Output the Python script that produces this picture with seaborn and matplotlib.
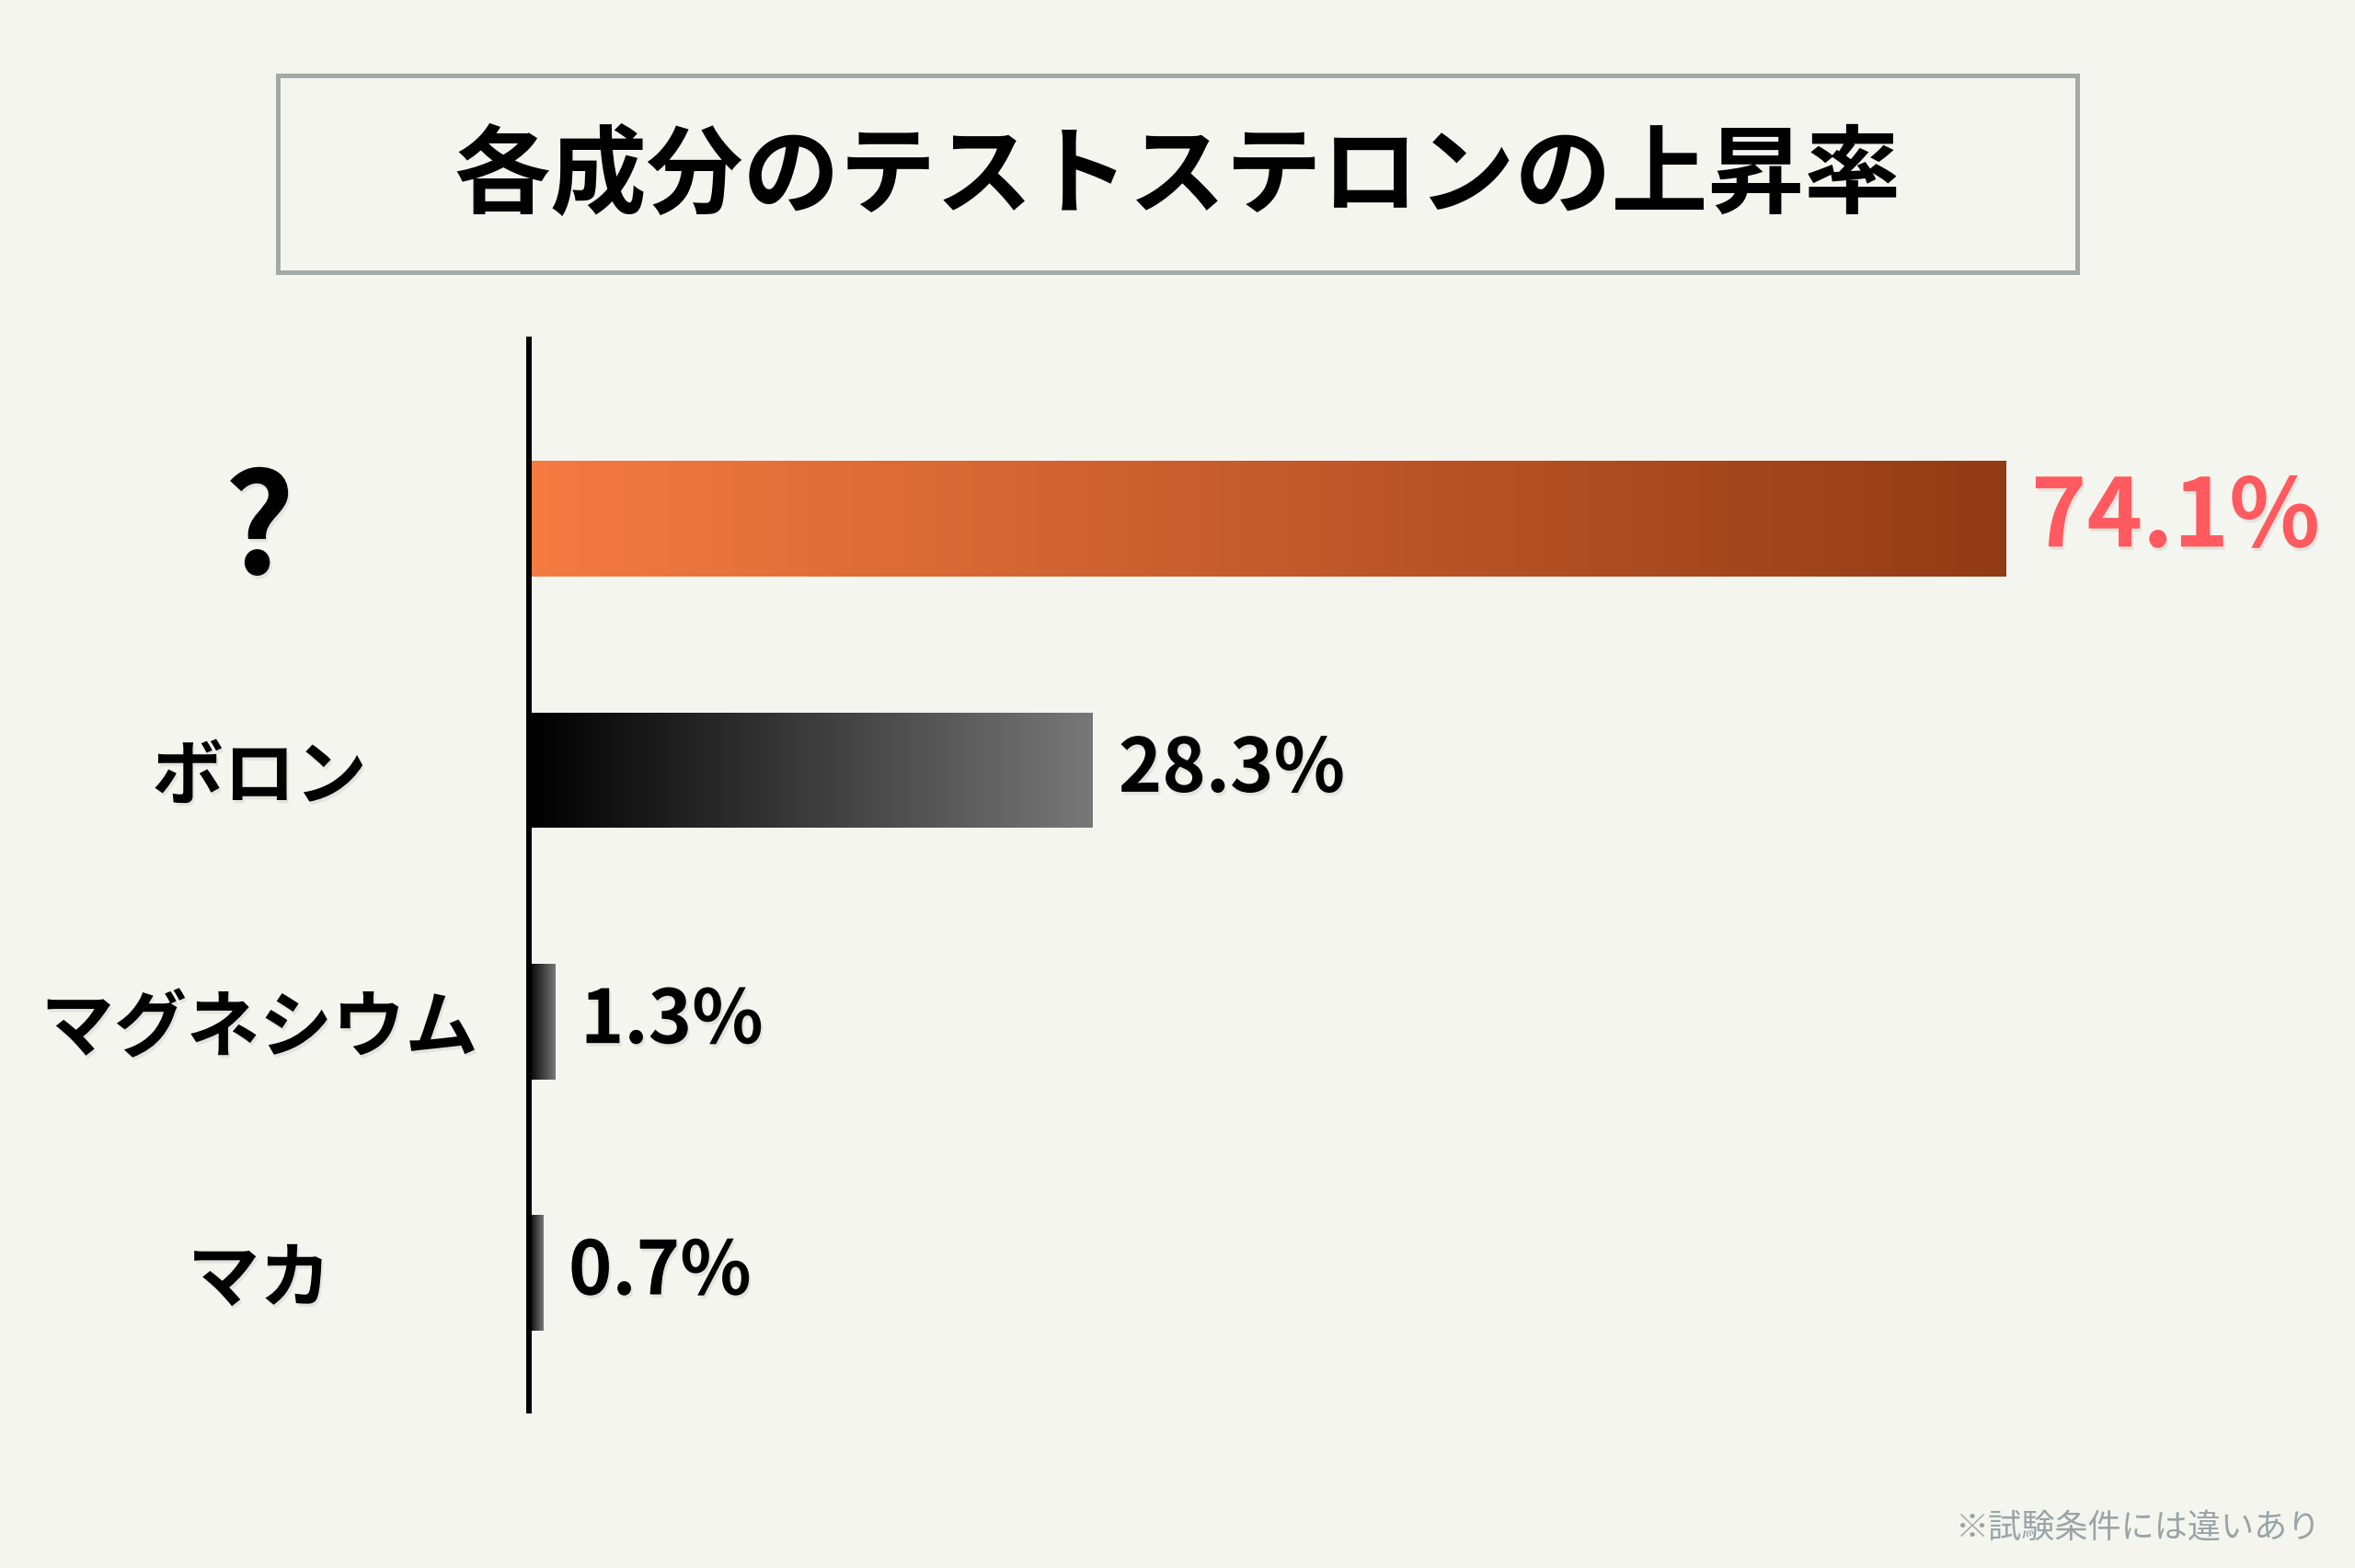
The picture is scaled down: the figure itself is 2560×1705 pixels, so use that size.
import numpy as np
import matplotlib
matplotlib.use("Agg")
import matplotlib.pyplot as plt
import matplotlib.patheffects as pe
from matplotlib.colors import LinearSegmentedColormap
from matplotlib.patches import Rectangle
import seaborn as sns

# data
title = "各成分のテストステロンの上昇率"
categories = ["?", "ボロン", "マグネシウム", "マカ"]
rates = [74.1, 28.3, 1.3, 0.7]
value_labels = ["74.1%", "28.3%", "1.3%", "0.7%"]
note = "※試験条件には違いあり"

bg = "#F5F5F0"
sns.set_theme(style="white")
plt.rcParams["font.family"] = ["Noto Sans CJK JP", "DejaVu Sans"]

W, H = 2560, 1706
fig = plt.figure(figsize=(25.6, 17.06), dpi=100, facecolor=bg)
ax = fig.add_axes([575 / W, 171 / H, 1900 / W, 1165 / H])
ax.set_facecolor("none")

sns.barplot(x=rates, y=categories, orient="h", width=0.46, color="black", ax=ax)

# gradient fills clipped to each bar
orange = LinearSegmentedColormap.from_list("orange", ["#F47B42", "#933B15"])
grey = LinearSegmentedColormap.from_list("grey", ["#000000", "#787878"])
grad = np.linspace(0, 1, 256).reshape(1, -1)
for i, bar in enumerate(ax.patches):
    x0, y0, w, h = bar.get_x(), bar.get_y(), bar.get_width(), bar.get_height()
    im = ax.imshow(grad, cmap=orange if i == 0 else grey,
                   extent=[x0, x0 + w, y0 + h, y0], aspect="auto",
                   interpolation="bicubic", zorder=bar.get_zorder() + 0.1)
    im.set_clip_path(bar)

ax.set_xlim(0, 1900 / 21.66)
ax.set_ylim(3.549, -0.714)

for s in ["top", "right", "bottom"]:
    ax.spines[s].set_visible(False)
ax.spines["left"].set_linewidth(4.3)
ax.spines["left"].set_color("black")
ax.spines["left"].set_zorder(5)
ax.set_xticks([])
ax.set_xlabel("")
ax.set_ylabel("")

shadow = [pe.withSimplePatchShadow(offset=(1.5, -2.5), shadow_rgbFace="#888888", alpha=0.16)]

label_sizes = [108, 56, 57, 56]
ax.tick_params(axis="y", length=0, pad=211)
for lab, size in zip(ax.get_yticklabels(), label_sizes):
    lab.set_horizontalalignment("center")
    lab.set_fontsize(size)
    lab.set_fontweight("bold")
    lab.set_color("black")
    lab.set_path_effects(shadow)

texts = ax.bar_label(ax.containers[0], labels=value_labels, padding=20,
                     fontsize=58, fontweight="bold", color="black")
texts[0].set_color("#FF5A5F")
texts[0].set_fontsize(74)
for t in texts:
    t.set_path_effects(shadow)

# title box
fig.patches.append(Rectangle((302 / W, 1 - 297 / H), 1956 / W, 214 / H,
                             transform=fig.transFigure, fill=False,
                             edgecolor="#A2A9A9", linewidth=3.6))
fig.text(0.5, 1 - 193 / H, title, ha="center", va="center",
         fontsize=75.5, fontweight="bold", color="black")

fig.text(2522 / W, 1 - 1663 / H, note, ha="right", va="center",
         fontsize=26, color="#9AA4A7")

fig.savefig("out.png", dpi=100, facecolor=bg)
